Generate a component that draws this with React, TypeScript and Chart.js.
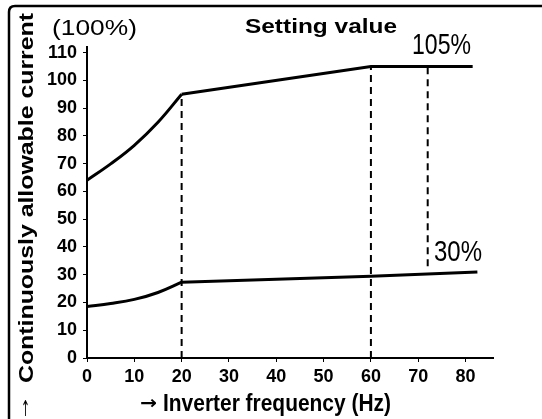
import React, { useEffect, useRef } from "react";
import { Chart, registerables } from "chart.js";

Chart.register(...registerables);

// ---- data ----
const frequencyTicks = [0, 10, 20, 30, 40, 50, 60, 70, 80];
const currentTicks = [0, 10, 20, 30, 40, 50, 60, 70, 80, 90, 100, 110];

// 105% setting: curved low-speed part and straight part
const upperCurveHz = [0, 5, 10, 15, 20];
const upperCurvePct = [64, 69.9, 76.6, 84.9, 95];
const upperLineHz = [20, 60, 81.5];
const upperLinePct = [95, 105, 105];

// 30% setting
const lowerCurveHz = [0, 5, 10, 15, 20];
const lowerCurvePct = [18.5, 19.6, 21.1, 23.6, 27.3];
const lowerLineHz = [20, 60, 82.5];
const lowerLinePct = [27.3, 29.4, 31];

// dashed guide lines
const guideHz = [20, 60, 72];
const guideFrom = [0, 0, 33];
const guideTo = [95, 105, 105];

const FONT = "'Liberation Sans', Arial, sans-serif";

function pts(xs: number[], ys: number[]) {
  return xs.map((x, i) => ({ x, y: ys[i] }));
}

function fitText(
  ctx: CanvasRenderingContext2D,
  text: string,
  left: number,
  baseline: number,
  width: number,
  px: number,
  weight = "normal",
  family = FONT
) {
  ctx.save();
  ctx.font = `${weight} ${px}px ${family}`;
  ctx.textAlign = "left";
  ctx.textBaseline = "alphabetic";
  const w = ctx.measureText(text).width;
  ctx.translate(left, baseline);
  ctx.scale(width / w, 1);
  ctx.fillText(text, 0, 0);
  ctx.restore();
}

const decor = {
  id: "decor",
  afterDraw(chart: any) {
    const ctx: CanvasRenderingContext2D = chart.ctx;
    ctx.save();
    ctx.fillStyle = "#000";
    ctx.strokeStyle = "#000";
    // frame (top and left)
    ctx.lineWidth = 2.5;
    ctx.beginPath();
    ctx.moveTo(9, 419);
    ctx.lineTo(9, 12);
    ctx.quadraticCurveTo(9, 6, 15, 6);
    ctx.lineTo(542, 6);
    ctx.stroke();

    fitText(ctx, "(100%)", 52, 35, 85, 22);
    fitText(ctx, "Setting value", 245, 33, 152, 20, "bold");
    fitText(ctx, "105%", 412, 54, 59, 30);
    fitText(ctx, "30%", 434, 261, 48, 30);
    fitText(ctx, "\u2192", 140, 409, 17, 18, "bold", "'DejaVu Sans', sans-serif");
    fitText(ctx, "Inverter frequency (Hz)", 163, 411, 228, 24, "bold");

    // rotated y title
    ctx.save();
    ctx.translate(33, 383);
    ctx.rotate(-Math.PI / 2);
    fitText(ctx, "Continuously allowable current", 0, 0, 370, 21, "bold");
    ctx.restore();

    // up arrow
    fitText(ctx, "\u2191", 21, 416, 9, 22, "normal", "'DejaVu Sans', sans-serif");
    ctx.restore();
  },
};

export default function App() {
  const ref = useRef<HTMLCanvasElement>(null);

  useEffect(() => {
    document.body.style.margin = "0";
    const solid = (data: any[], tension: number) => ({
      data,
      borderColor: "#000",
      borderWidth: 3,
      pointRadius: 0,
      tension,
      fill: false,
    });
    const datasets: any[] = [
      solid(pts(upperCurveHz, upperCurvePct), 0.4),
      solid(pts(upperLineHz, upperLinePct), 0),
      solid(pts(lowerCurveHz, lowerCurvePct), 0.4),
      solid(pts(lowerLineHz, lowerLinePct), 0),
      ...guideHz.map((hz, i) => ({
        data: [
          { x: hz, y: guideFrom[i] },
          { x: hz, y: guideTo[i] },
        ],
        borderColor: "#000",
        borderWidth: 2,
        borderDash: [7, 5],
        pointRadius: 0,
        fill: false,
      })),
    ];

    const chart = new Chart(ref.current!, {
      type: "line",
      data: { datasets },
      plugins: [decor],
      options: {
        animation: false,
        responsive: false,
        devicePixelRatio: 1,
        layout: { padding: { left: 0, right: 49, top: 47, bottom: 0 } },
        plugins: { legend: { display: false }, tooltip: { enabled: false } },
        scales: {
          x: {
            type: "linear",
            min: 0,
            max: 85.8,
            afterBuildTicks: (s: any) => {
              s.ticks = frequencyTicks.map((v) => ({ value: v }));
            },
            afterFit: (s: any) => {
              s.height = 61;
            },
            border: { display: true, color: "#000", width: 2 },
            grid: { display: true, drawOnChartArea: false, tickLength: 4, color: "#000", lineWidth: 1 },
            ticks: {
              color: "#000",
              font: { family: FONT, size: 18, weight: "bold" },
              padding: 4,
              maxRotation: 0,
              autoSkip: false,
            },
          },
          y: {
            type: "linear",
            min: 0,
            max: 112,
            afterBuildTicks: (s: any) => {
              s.ticks = currentTicks.map((v) => ({ value: v }));
            },
            afterFit: (s: any) => {
              s.width = 87;
            },
            border: { display: true, color: "#000", width: 2 },
            grid: { display: true, drawOnChartArea: false, tickLength: 4, color: "#000", lineWidth: 1 },
            ticks: {
              color: "#000",
              font: { family: FONT, size: 18, weight: "bold" },
              padding: 6,
              autoSkip: false,
            },
          },
        },
      },
    });
    return () => chart.destroy();
  }, []);

  return (
    <div style={{ width: 542, height: 419, background: "#fff" }}>
      <canvas ref={ref} width={542} height={419} style={{ display: "block", width: 542, height: 419 }} />
    </div>
  );
}
